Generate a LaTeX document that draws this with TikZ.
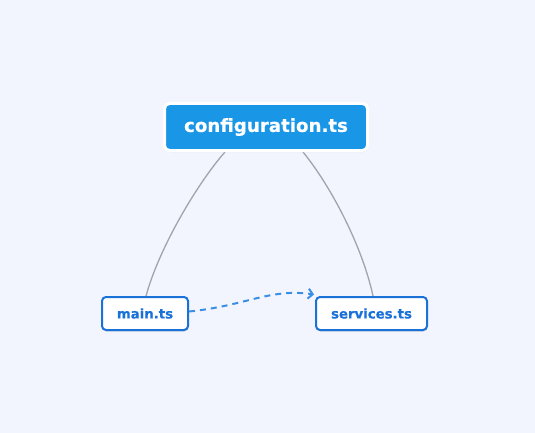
\documentclass[tikz,border=0pt]{standalone}
\usepackage{fontspec}
\setmainfont{DejaVu Sans}
\newfontfamily\vbold[BoldFeatures={FakeBold=0.5}]{DejaVu Sans}
\usetikzlibrary{arrows.meta,shadows}
\definecolor{bgc}{HTML}{F2F5FE}
\definecolor{cfgblue}{HTML}{1A96E6}
\definecolor{nodeblue}{HTML}{1A72D8}
\definecolor{edgegray}{HTML}{A0A4AC}
\definecolor{dashblue}{HTML}{3A8EE6}
\tikzset{
  cfgbox/.style={draw=white, line width=3pt, fill=cfgblue, rounded corners=5pt,
    minimum width=203pt, minimum height=47pt, inner sep=0pt,
    text=white, font=\fontsize{18.2}{21}\vbold\bfseries,
    drop shadow={opacity=0.3, shadow xshift=0.5pt, shadow yshift=-1.5pt}},
  filebox/.style={draw=nodeblue, line width=2pt, fill=white, rounded corners=4pt,
    minimum height=33pt, inner sep=0pt,
    text=nodeblue, font=\fontsize{13.3}{16}\vbold\bfseries,
    drop shadow={opacity=0.3, shadow xshift=0.5pt, shadow yshift=-1.5pt}},
  link/.style={draw=edgegray, line width=1.3pt},
  dep/.style={draw=dashblue, line width=2pt, dash pattern=on 6pt off 5pt,
    -{Straight Barb[length=4.5pt,width=10pt,line width=2pt]}}
}
\begin{document}
\begin{tikzpicture}[x=1pt,y=-1pt]
\fill[bgc] (0,0) rectangle (535,433);
\useasboundingbox (0,0) rectangle (535,433);
\draw[link] (225,152) .. controls (200,180) and (160,245) .. (146,296);
\draw[link] (303,152) .. controls (330,185) and (362,245) .. (373,296);
\node[cfgbox] (cfg) at (266,127) {configuration.ts};
\node[filebox, minimum width=86pt] (main) at (145,313.5) {main.ts};
\node[filebox, minimum width=111pt] (svc) at (371.5,313.5) {services.ts};
\draw[dep] ([yshift=2pt]main.east) .. controls (245,306) and (270,288) .. ([xshift=-1pt,yshift=1.5pt]svc.north west);
\end{tikzpicture}
\end{document}
